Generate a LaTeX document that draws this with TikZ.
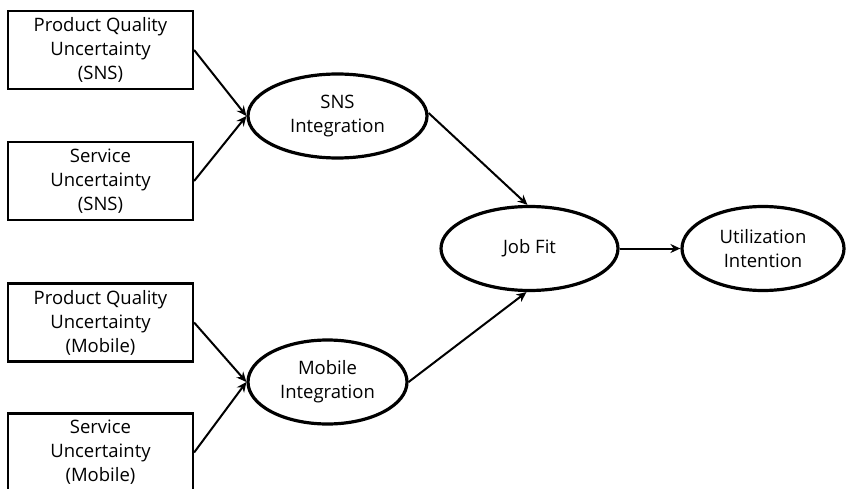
\documentclass[tikz,border=0pt]{standalone}
\usepackage{fontspec}
\setmainfont{Open Sans}
\usetikzlibrary{shapes.geometric,arrows.meta}
\begin{document}
\begin{tikzpicture}[x=1pt,y=-1pt,
  box/.style={draw,line width=2.2pt,rectangle,minimum width=185pt,minimum height=78pt,inner sep=0pt,align=center,font=\fontsize{18.5}{24}\selectfont},
  oval/.style={draw,line width=3.2pt,ellipse,inner sep=0pt,align=center,minimum height=84pt,font=\fontsize{18.5}{24}\selectfont},
  arr/.style={line width=2pt,-{Stealth[length=10pt,width=9pt]}}]
\useasboundingbox (0,0) rectangle (853,489);
\node[box] (b1) at (100.5,50) {Product Quality\\Uncertainty\\(SNS)};
\node[box] (b2) at (100.5,181) {Service\\Uncertainty\\(SNS)};
\node[box] (b3) at (100.5,322.5) {Product Quality\\Uncertainty\\(Mobile)};
\node[box] (b4) at (100.5,452.5) {Service\\Uncertainty\\(Mobile)};
\node[oval,minimum width=179pt] (sns) at (337.5,116) {SNS\\Integration};
\node[oval,minimum width=159pt] (mob) at (327.5,382) {Mobile\\Integration};
\node[oval,minimum width=177pt] (jf) at (529.5,248.5) {Job Fit};
\node[oval,minimum width=162pt] (ui) at (763,248.5) {Utilization\\Intention};
\coordinate (s1) at ([yshift=3pt]sns.east);
\draw[arr] (b1.east) -- (sns.west);
\draw[arr] (b2.east) -- (sns.west);
\draw[arr] (b3.east) -- (mob.west);
\draw[arr] (b4.east) -- (mob.west);
\draw[arr] (s1) -- ([xshift=-2pt]jf.north);
\draw[arr] (mob.east) -- ([xshift=-3pt]jf.south);
\draw[arr] (jf.east) -- (ui.west);
\end{tikzpicture}
\end{document}
